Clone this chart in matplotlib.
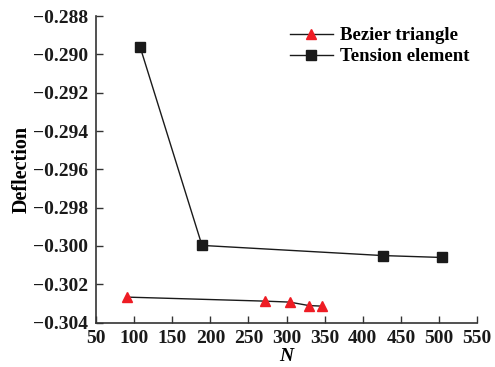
import matplotlib.pyplot as plt

# Bezier triangle
n_bez = [91, 272, 304, 329, 346]
d_bez = [-0.30267, -0.30288, -0.30293, -0.30311, -0.30314]

# Tension element
n_ten = [108, 189, 426, 504]
d_ten = [-0.28963, -0.29997, -0.30050, -0.30060]

x_ticks = list(range(50, 551, 50))
y_ticks = [-0.288, -0.290, -0.292, -0.294, -0.296, -0.298, -0.300, -0.302, -0.304]

plt.rcParams['font.family'] = ['Liberation Serif', 'DejaVu Serif']
plt.rcParams['font.weight'] = 'bold'

fig = plt.figure(figsize=(4.95, 3.67), dpi=100)
ax = fig.add_axes([0.194, 0.121, 0.770, 0.835])

ax.plot(n_bez, d_bez, color='#1a1a1a', lw=1, marker='^', ms=7,
        mfc='#ee1c24', mec='#ee1c24', label='Bezier triangle')
ax.plot(n_ten, d_ten, color='#1a1a1a', lw=1, marker='s', ms=6.5,
        mfc='#1a1a1a', mec='#1a1a1a', label='Tension element')

ax.set_xlim(50, 550)
ax.set_ylim(-0.304, -0.288)
ax.set_xticks(x_ticks)
ax.set_yticks(y_ticks)
ax.set_yticklabels([f'{v:.3f}'.replace('-', '\u2212') for v in y_ticks])

for s in ['top', 'right']:
    ax.spines[s].set_visible(False)
for s in ['left', 'bottom']:
    ax.spines[s].set_color('#333333')
    ax.spines[s].set_linewidth(1.2)

ax.tick_params(direction='in', length=5, width=1, colors='#333333',
               labelcolor='#1a1a1a', labelsize=14)
ax.tick_params(axis='y', pad=5.5)
ax.tick_params(axis='x', pad=5)

ax.set_xlabel('N', fontsize=14, fontstyle='italic', fontweight='bold', labelpad=1)
ax.set_ylabel('Deflection', fontsize=14.5, fontweight='bold', labelpad=1)

ax.legend(loc='upper right', bbox_to_anchor=(1.015, 1.007), frameon=False,
          fontsize=13.5, handlelength=2.3, handletextpad=0.4, labelspacing=0.2,
          borderaxespad=0.3)

fig.savefig('out.png', dpi=100)
